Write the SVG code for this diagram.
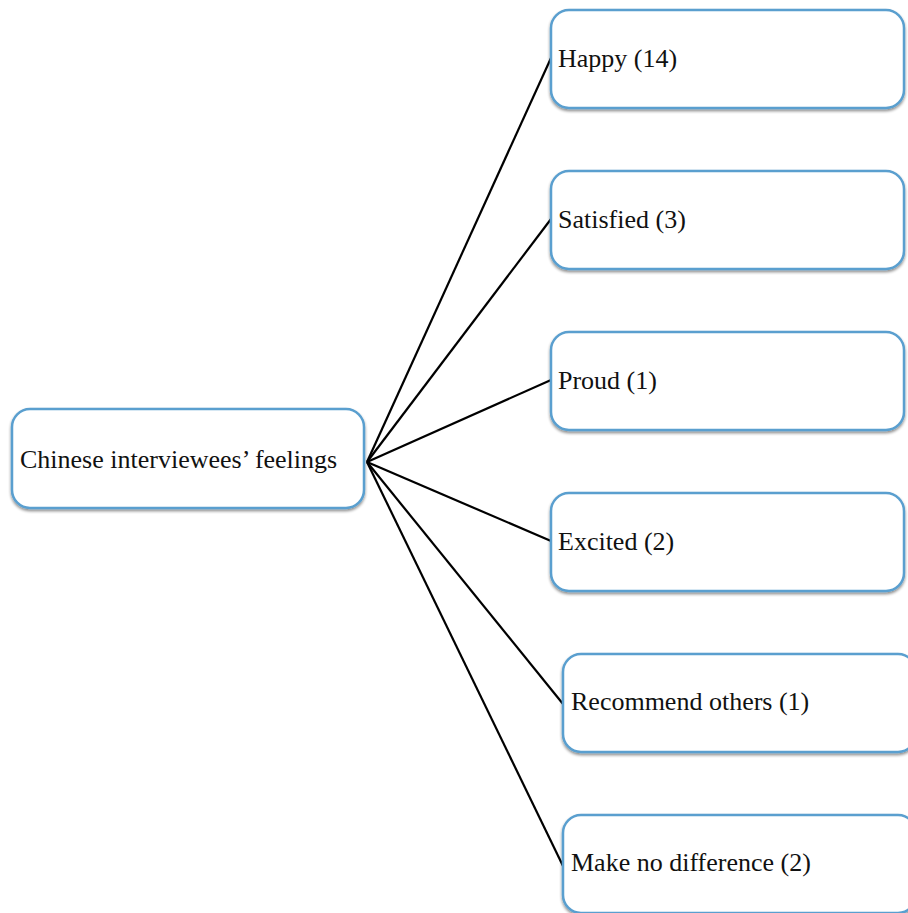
<svg xmlns="http://www.w3.org/2000/svg" width="908" height="913" viewBox="0 0 908 913">
<defs>
<filter id="sh" x="-10%" y="-10%" width="120%" height="130%">
<feGaussianBlur in="SourceAlpha" stdDeviation="1.5"/>
<feOffset dx="0" dy="2" result="b"/>
<feComponentTransfer><feFuncA type="linear" slope="0.45"/></feComponentTransfer>
<feMerge><feMergeNode/><feMergeNode in="SourceGraphic"/></feMerge>
</filter>
</defs>
<style>
.box{fill:#fff;stroke:#5a9fcf;stroke-width:2.5;filter:url(#sh)}
.t{font-family:"Liberation Serif","Times New Roman",serif;font-size:26px;fill:#111}
.c{stroke:#000;stroke-width:2.2;fill:none}
</style>
<rect width="908" height="913" fill="#fff"/>
<g id="connectors">
<line class="c" x1="367" y1="462" x2="551" y2="58"/>
<line class="c" x1="367" y1="462" x2="551" y2="219"/>
<line class="c" x1="367" y1="462" x2="551" y2="380"/>
<line class="c" x1="367" y1="462" x2="551" y2="541"/>
<line class="c" x1="367" y1="462" x2="563" y2="704"/>
<line class="c" x1="367" y1="462" x2="563" y2="866"/>
</g>
<g id="root">
<rect class="box" x="12" y="409" width="352" height="99" rx="18"/>
<text class="t" x="20" y="468">Chinese interviewees’ feelings</text>
</g>
<g id="happy">
<rect class="box" x="551" y="10" width="353" height="98" rx="18"/>
<text class="t" x="558" y="67">Happy (14)</text>
</g>
<g id="satisfied">
<rect class="box" x="551" y="171" width="353" height="98" rx="18"/>
<text class="t" x="558" y="228">Satisfied (3)</text>
</g>
<g id="proud">
<rect class="box" x="551" y="332" width="353" height="98" rx="18"/>
<text class="t" x="558" y="389">Proud (1)</text>
</g>
<g id="excited">
<rect class="box" x="551" y="493" width="353" height="98" rx="18"/>
<text class="t" x="558" y="550">Excited (2)</text>
</g>
<g id="recommend">
<rect class="box" x="563" y="654" width="353" height="98" rx="18"/>
<text class="t" x="571" y="710">Recommend others (1)</text>
</g>
<g id="nodiff">
<rect class="box" x="563" y="815" width="353" height="98" rx="18"/>
<text class="t" x="571" y="871">Make no difference (2)</text>
</g>
</svg>
